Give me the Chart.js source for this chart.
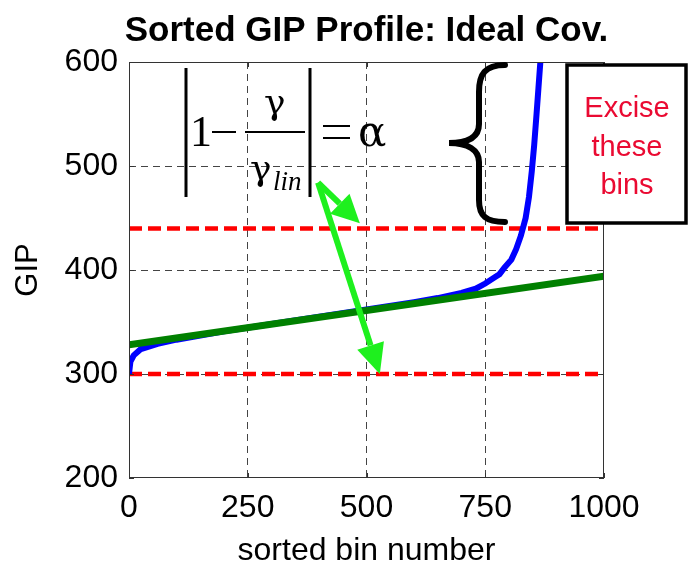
<!DOCTYPE html>
<html lang="en">
<head>
    <meta charset="UTF-8">
    <title>Sorted GIP Profile: Ideal Cov.</title>
    <script src="https://cdn.jsdelivr.net/npm/chart.js"></script>
    <style>
        html, body {
            margin: 0;
            padding: 0;
            background: #ffffff;
        }
        #wrap {
            width: 688px;
            height: 570px;
        }
    </style>
</head>
<body>
    <div id="wrap"><canvas id="gipChart" width="688" height="570"></canvas></div>

    <script>
        // sorted GIP curve (blue)
        const binNumbers = [0, 3, 10, 25, 60, 100, 200, 300, 400, 500, 600, 650, 700, 730, 750, 770, 780, 790, 805, 815, 825, 835, 842, 848, 853, 858, 862, 866, 870];
        const gipValues  = [300, 312, 318, 324, 329, 333, 341, 348, 355, 362, 369, 373, 378, 382, 387, 393, 396, 402, 410, 420, 433, 450, 470, 495, 520, 550, 575, 600, 630];

        // linear fit (green)
        const linBins = [0, 1000];
        const linValues = [328, 394];

        // thresholds (red dashed)
        const upperLimit = 440;
        const lowerLimit = 300;

        const xTicks = [0, 250, 500, 750, 1000];
        const yTicks = [200, 300, 400, 500, 600];

        const chartTitle = 'Sorted GIP Profile: Ideal Cov.';

        function toPoints(xs, ys) {
            return xs.map((x, i) => ({ x: x, y: ys[i] }));
        }

        function edgeColor(values) {
            return ctx => values.indexOf(ctx.tick.value) === 0 || values.indexOf(ctx.tick.value) === values.length - 1 ? 'rgba(0,0,0,0)' : '#444';
        }

        function arrow(ctx, x1, y1, x2, y2, head, wide) {
            const a = Math.atan2(y2 - y1, x2 - x1);
            const bx = x2 - head * Math.cos(a);
            const by = y2 - head * Math.sin(a);
            ctx.beginPath();
            ctx.moveTo(x1, y1);
            ctx.lineTo(bx, by);
            ctx.stroke();
            ctx.beginPath();
            ctx.moveTo(x2, y2);
            ctx.lineTo(bx + wide * Math.sin(a), by - wide * Math.cos(a));
            ctx.lineTo(bx - wide * Math.sin(a), by + wide * Math.cos(a));
            ctx.closePath();
            ctx.fill();
        }

        const decorations = {
            id: 'decorations',
            afterDraw(chart) {
                const ctx = chart.ctx;
                const area = chart.chartArea;
                const xs = chart.scales.x;
                const ys = chart.scales.y;
                ctx.save();

                // title, centred over the axes
                ctx.fillStyle = '#000';
                ctx.font = 'bold 35px "Liberation Sans", Arial, sans-serif';
                ctx.textAlign = 'center';
                ctx.textBaseline = 'middle';
                ctx.fillText(chartTitle, (area.left + area.right) / 2, 31);

                // axes box + inward ticks
                ctx.strokeStyle = '#333';
                ctx.lineWidth = 1;
                ctx.setLineDash([]);
                ctx.strokeRect(area.left + 0.5, area.top + 0.5, area.right - area.left - 1, area.bottom - area.top - 1);
                ctx.beginPath();
                xTicks.forEach(v => {
                    const px = Math.round(xs.getPixelForValue(v)) + 0.5;
                    ctx.moveTo(px, area.bottom); ctx.lineTo(px, area.bottom - 5);
                    ctx.moveTo(px, area.top); ctx.lineTo(px, area.top + 5);
                });
                yTicks.forEach(v => {
                    const py = Math.round(ys.getPixelForValue(v)) + 0.5;
                    ctx.moveTo(area.left, py); ctx.lineTo(area.left + 5, py);
                    ctx.moveTo(area.right, py); ctx.lineTo(area.right - 5, py);
                });
                ctx.stroke();

                // formula |1 - gamma/gamma_lin| = alpha
                ctx.fillStyle = '#000';
                ctx.strokeStyle = '#000';
                ctx.lineWidth = 3;
                ctx.beginPath();
                ctx.moveTo(186, 68); ctx.lineTo(186, 197);
                ctx.moveTo(310, 68); ctx.lineTo(310, 197);
                ctx.stroke();
                ctx.lineWidth = 2;
                ctx.beginPath();
                ctx.moveTo(245, 132); ctx.lineTo(305, 132);
                ctx.moveTo(212, 132); ctx.lineTo(236, 132);
                ctx.moveTo(323, 126); ctx.lineTo(350, 126);
                ctx.moveTo(323, 138); ctx.lineTo(350, 138);
                ctx.stroke();
                ctx.textBaseline = 'alphabetic';
                ctx.textAlign = 'left';
                ctx.font = '44px "Liberation Serif", serif';
                ctx.fillText('1', 190, 146);
                ctx.font = '42px "DejaVu Serif", serif';
                ctx.fillText('\u03b1', 358, 146);
                ctx.font = '36px "DejaVu Serif", serif';
                ctx.fillText('\u03b3', 264, 114);
                ctx.fillText('\u03b3', 250, 180);
                ctx.font = 'italic 27px "Liberation Serif", serif';
                ctx.fillText('lin', 273, 190);

                // green arrows
                ctx.strokeStyle = '#1ef01e';
                ctx.fillStyle = '#1ef01e';
                ctx.lineWidth = 6;
                const sx = xs.getPixelForValue(398), sy = ys.getPixelForValue(484);
                arrow(ctx, sx, sy, xs.getPixelForValue(486), ys.getPixelForValue(445), 28, 14);
                arrow(ctx, sx, sy, xs.getPixelForValue(528), ys.getPixelForValue(lowerLimit), 30, 14);

                // brace
                ctx.strokeStyle = '#000';
                ctx.lineWidth = 6;
                ctx.lineCap = 'round';
                ctx.beginPath();
                ctx.moveTo(505, 65);
                ctx.bezierCurveTo(485, 65, 479, 74, 479, 92);
                ctx.lineTo(479, 124);
                ctx.bezierCurveTo(479, 137, 468, 143, 449, 143);
                ctx.bezierCurveTo(468, 143, 479, 150, 479, 162);
                ctx.lineTo(479, 200);
                ctx.bezierCurveTo(479, 216, 486, 222, 505, 222);
                ctx.stroke();

                // "Excise these bins" box
                ctx.lineCap = 'butt';
                ctx.lineWidth = 3.5;
                ctx.fillStyle = '#fff';
                ctx.fillRect(567, 65, 119, 158);
                ctx.strokeRect(567, 65, 119, 158);
                ctx.fillStyle = '#ea0a32';
                ctx.font = '29px "Liberation Sans", Arial, sans-serif';
                ctx.textAlign = 'center';
                ctx.textBaseline = 'middle';
                ctx.fillText('Excise', 627, 109);
                ctx.fillText('these', 627, 148);
                ctx.fillText('bins', 627, 186);

                ctx.restore();
            }
        };

        const ctxLine = document.getElementById('gipChart').getContext('2d');
        new Chart(ctxLine, {
            type: 'line',
            data: {
                datasets: [
                    {
                        label: 'linear',
                        data: toPoints(linBins, linValues),
                        borderColor: '#008000',
                        borderWidth: 7,
                        pointRadius: 0,
                        clip: 0
                    },
                    {
                        label: 'sorted GIP',
                        data: toPoints(binNumbers, gipValues),
                        borderColor: '#0000ff',
                        borderWidth: 6,
                        pointRadius: 0,
                        clip: 0
                    },
                    {
                        label: 'upper',
                        data: toPoints([0, 1000], [upperLimit, upperLimit]),
                        borderColor: '#ff0000',
                        borderWidth: 4.5,
                        borderDash: [13, 6],
                        pointRadius: 0,
                        clip: 0
                    },
                    {
                        label: 'lower',
                        data: toPoints([0, 1000], [lowerLimit, lowerLimit]),
                        borderColor: '#ff0000',
                        borderWidth: 4.5,
                        borderDash: [13, 6],
                        pointRadius: 0,
                        clip: 0
                    }
                ]
            },
            options: {
                responsive: false,
                animation: false,
                layout: { padding: { top: 62, left: 0, right: 84, bottom: 0 } },
                plugins: {
                    legend: { display: false },
                    tooltip: { enabled: false },
                    title: { display: false }
                },
                scales: {
                    x: {
                        type: 'linear',
                        min: 0,
                        max: 1000,
                        afterBuildTicks: scale => { scale.ticks = xTicks.map(v => ({ value: v })); },
                        afterFit: scale => { scale.height = 92; },
                        ticks: {
                            color: '#000',
                            padding: 11,
                            maxRotation: 0,
                            callback: v => String(v),
                            font: { family: '"Liberation Sans", Arial, sans-serif', size: 32 }
                        },
                        grid: { color: edgeColor(xTicks), lineWidth: 1, drawTicks: false },
                        border: { display: false, dash: [7, 5] },
                        title: {
                            display: true,
                            text: 'sorted bin number',
                            color: '#000',
                            font: { family: '"Liberation Sans", Arial, sans-serif', size: 32 },
                            padding: { top: 0, bottom: 0 }
                        }
                    },
                    y: {
                        min: 200,
                        max: 600,
                        afterBuildTicks: scale => { scale.ticks = yTicks.map(v => ({ value: v })); },
                        afterFit: scale => { scale.width = 129; },
                        ticks: {
                            color: '#000',
                            padding: 11,
                            callback: v => String(v),
                            font: { family: '"Liberation Sans", Arial, sans-serif', size: 32 }
                        },
                        grid: { color: edgeColor(yTicks), lineWidth: 1, drawTicks: false },
                        border: { display: false, dash: [7, 5] },
                        title: {
                            display: true,
                            text: 'GIP',
                            color: '#000',
                            font: { family: '"Liberation Sans", Arial, sans-serif', size: 31 },
                            padding: { top: 10, bottom: 0 }
                        }
                    }
                }
            },
            plugins: [decorations]
        });
    </script>
</body>
</html>
